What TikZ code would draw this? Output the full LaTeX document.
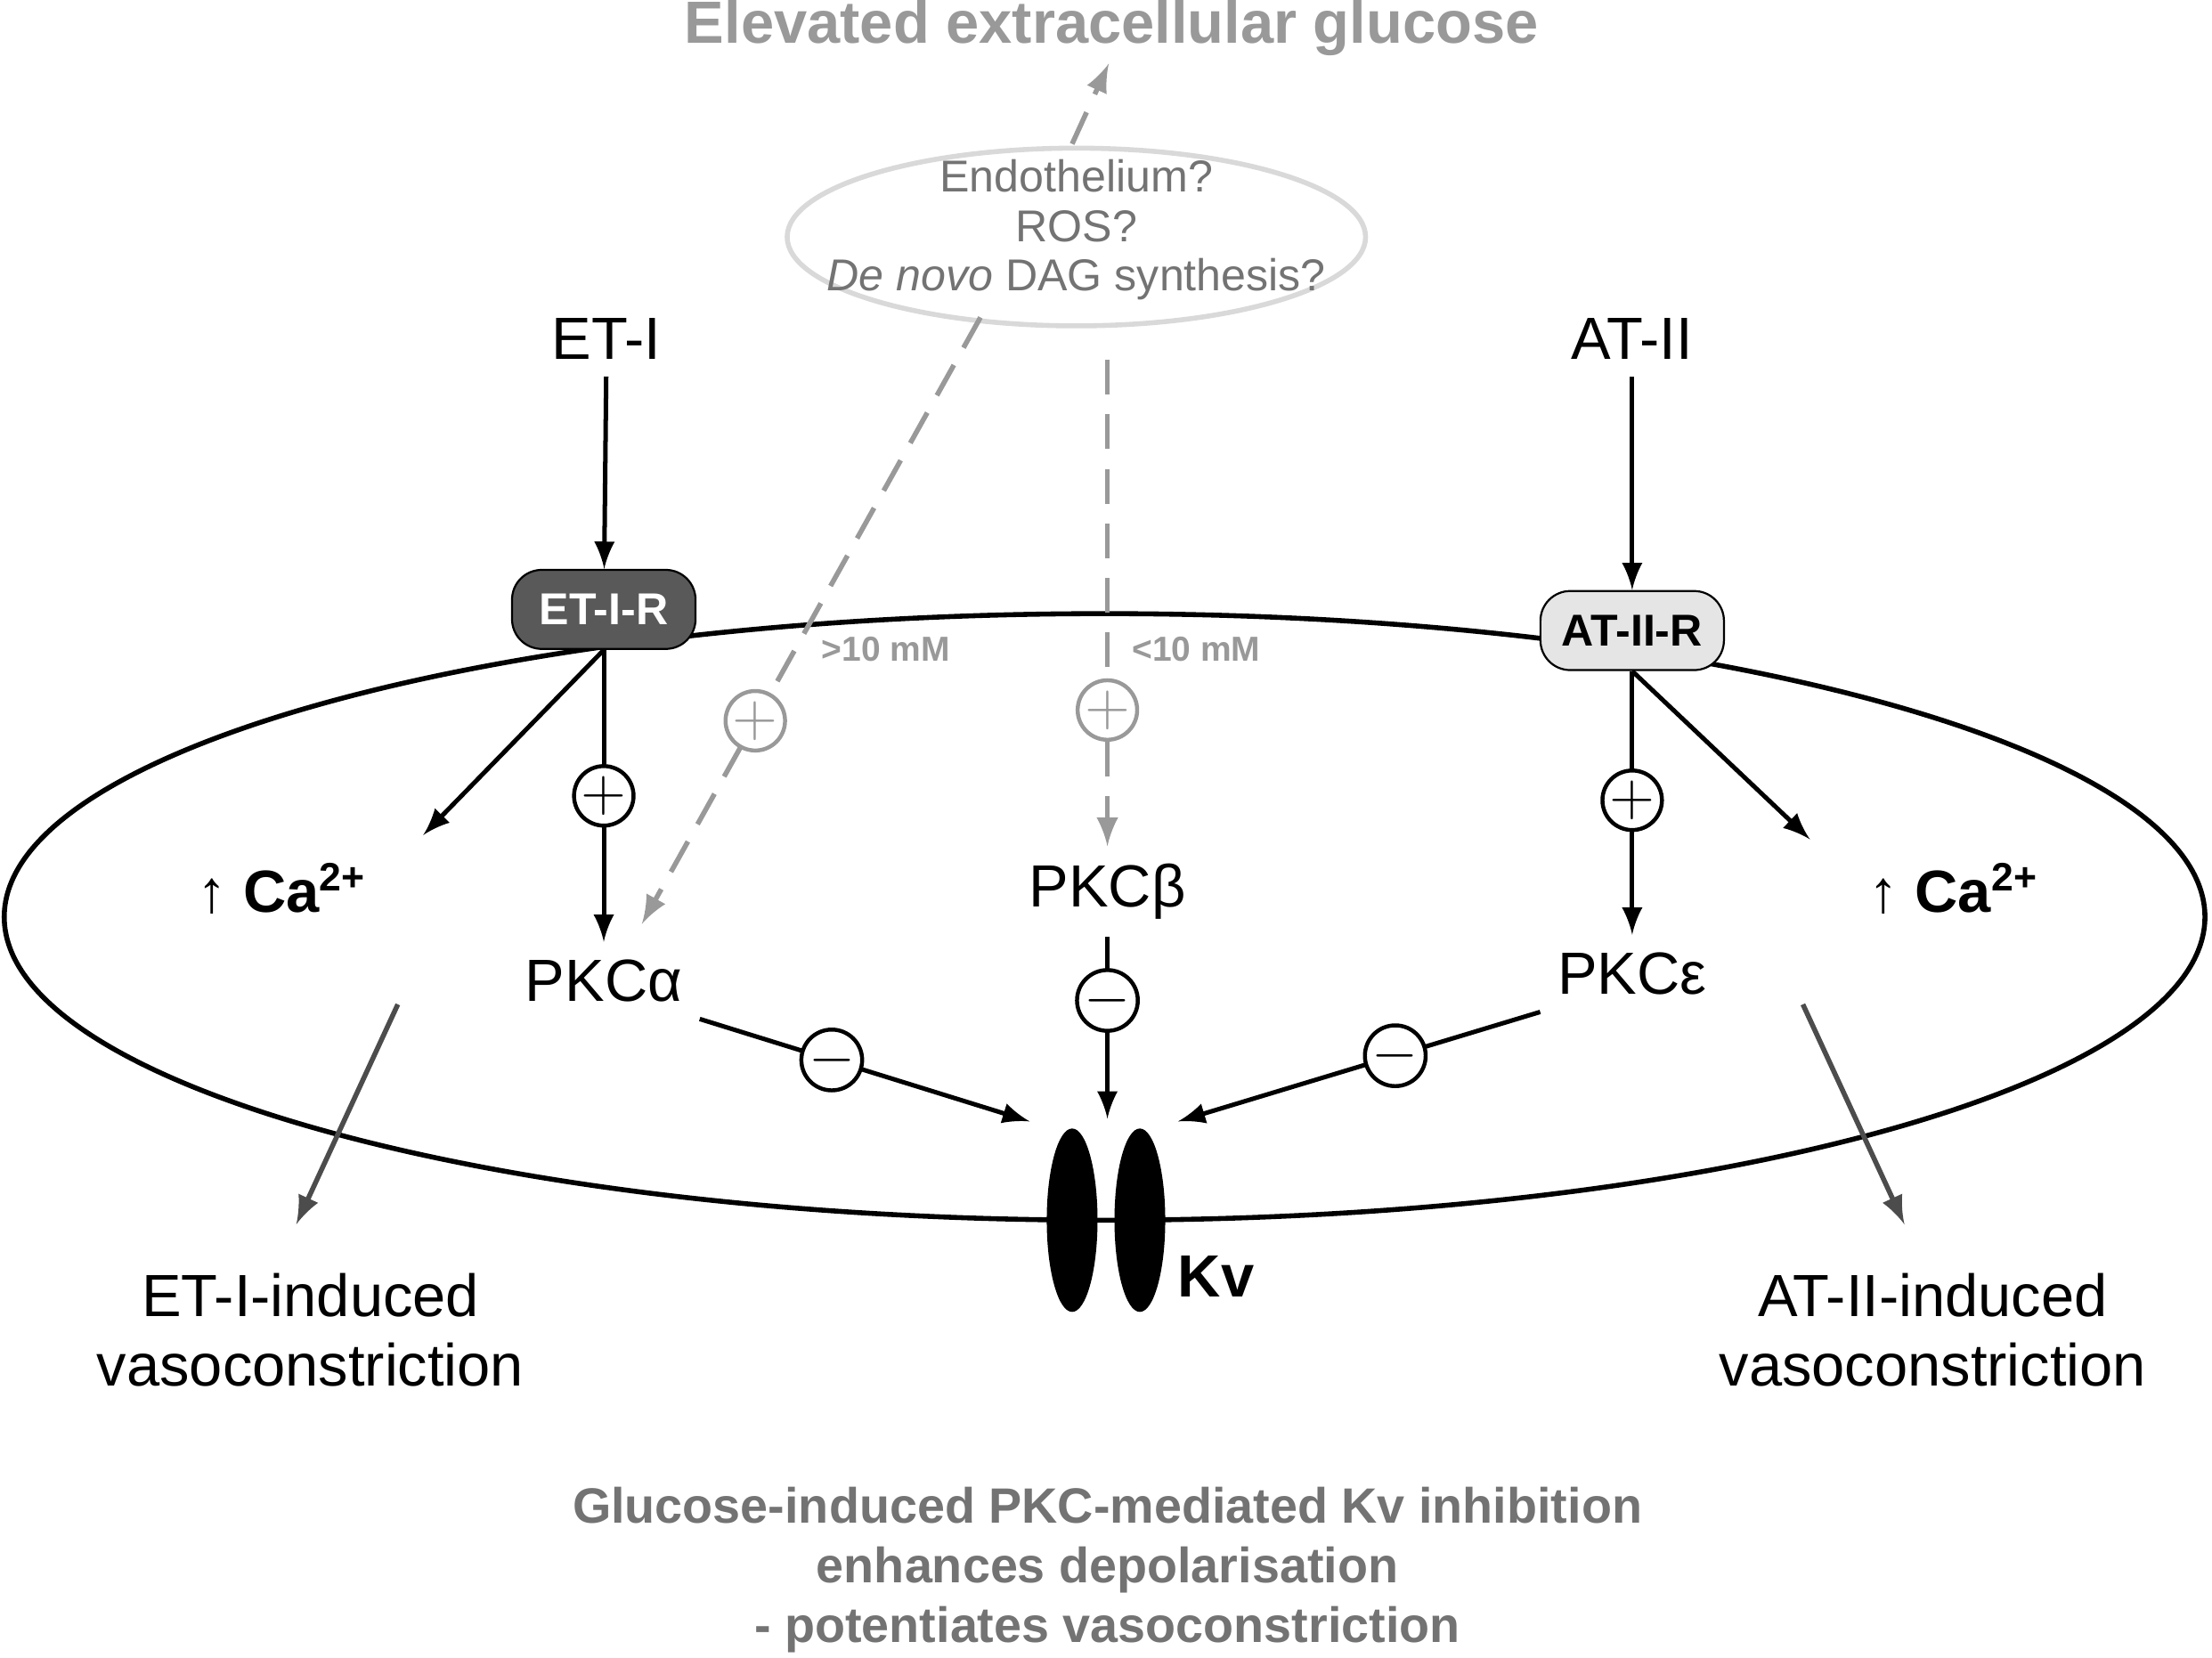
\documentclass[tikz,border=0pt]{standalone}
\usepackage{fontspec}
\setmainfont{Liberation Sans}
\usetikzlibrary{shapes.geometric}
\definecolor{glu}{gray}{0.6}
\definecolor{txtgray}{gray}{0.45}
\tikzset{
  sign/.style={circle, draw, solid, fill=white, line width=0.8pt, minimum size=0.34cm, inner sep=0pt, font=\bfseries\large},
  arr/.style={-latex, line width=0.9pt},
  gluarr/.style={-latex, dashed, dash pattern=on 7pt off 4pt, line width=1pt, glu},
  lbl/.style={font=\fontsize{12}{14}\selectfont, align=center}
}
\begin{document}
\begin{tikzpicture}[x=0.01cm, y=-0.01cm]
\useasboundingbox (0,0) rectangle (1568,1175);
% Cell
    \draw[line width=1pt] (783,650) ellipse (780 and 215);
% Glucose
    \node[font=\bfseries\fontsize{12}{14}\selectfont, glu] (glucose) at (788,20) {Elevated extracellular glucose};
    \draw[draw=black!15, line width=1pt] (763,168) ellipse (205 and 63);
    \node[align=center, text=txtgray, font=\fontsize{9}{10}\selectfont, inner sep=0pt] (mech) at (763,163)
          {Endothelium?\\ROS?\\\textit{De novo} DAG synthesis?};
    \coordinate (mtop) at (760,102);
    \coordinate (gbot) at (786,45);
    \draw[gluarr] (mtop) -- (gbot);
% Ligands and receptors
    \node[lbl] (et) at (430,240) {ET-I};
    \node[lbl] (at) at (1157,240) {AT-II};
    \node[draw, rounded corners=6pt, fill=black!65, text=white, font=\bfseries\small, minimum width=1.3cm, minimum height=0.56cm] (etr) at (428,432) {ET-I-R};
    \node[draw, rounded corners=6pt, fill=black!10, font=\bfseries\small, minimum width=1.3cm, minimum height=0.56cm] (atr) at (1157,447) {AT-II-R};
    \draw[arr] (et) -- (etr);
    \draw[arr] (at) -- (atr);
% Calcium
    \node[lbl] (ca1) at (200,630) {↑ \textbf{Ca}\textsuperscript{\textbf{2+}}};
    \node[lbl] (ca2) at (1385,630) {↑ \textbf{Ca}\textsuperscript{\textbf{2+}}};
    \coordinate (ca1t) at (300,592);
    \coordinate (ca2t) at (1283,595);
    \draw[arr] (etr.south) -- (ca1t);
    \draw[arr] (atr.south) -- (ca2t);
% PKC isoforms
    \node[lbl] (pkca) at (428,695) {PKCα};
    \node[lbl] (pkcb) at (785,632) {PKCβ};
    \node[lbl] (pkce) at (1157,690) {PKCε};
    \draw[arr] (etr) -- (pkca) node[sign, pos=0.5] {$+$};
    \draw[arr] (atr) -- (pkce) node[sign, pos=0.49] {$+$};
% Glucose routes
    \coordinate (ga) at (695,225);
    \coordinate (pa) at (455,655);
    \coordinate (gb) at (785,255);
    \draw[gluarr] (ga) -- (pa) node[sign, draw=glu, text=glu, pos=0.665] {$+$};
    \draw[gluarr] (gb) -- (pkcb.north) node[sign, draw=glu, text=glu, pos=0.72] {$+$};
    \node[glu, font=\bfseries\scriptsize] (hi) at (628,460) {>10 mM};
    \node[glu, font=\bfseries\scriptsize] (lo) at (848,460) {<10 mM};
% Kv channel
    \fill (760,865) ellipse (18 and 65);
    \fill (808,865) ellipse (18 and 65);
    \node[font=\bfseries\fontsize{12}{14}\selectfont] (kv) at (862,905) {Kv};
    \coordinate (kva) at (730,795);
    \coordinate (kvb) at (785,793);
    \coordinate (kve) at (835,795);
    \draw[arr] (pkca.south east) -- (kva) node[sign, pos=0.4] {$-$};
    \draw[arr] (pkcb) -- (kvb) node[sign, pos=0.35] {$-$};
    \draw[arr] (pkce.south west) -- (kve) node[sign, pos=0.4] {$-$};
% Outcomes
    \coordinate (c1a) at (282,712);
    \coordinate (c1b) at (210,868);
    \coordinate (c2a) at (1278,712);
    \coordinate (c2b) at (1350,868);
    \draw[-latex, line width=1pt, black!70] (c1a) -- (c1b);
    \draw[-latex, line width=1pt, black!70] (c2a) -- (c2b);
    \node[lbl] (out1) at (220,943) {ET-I-induced\\vasoconstriction};
    \node[lbl] (out2) at (1370,943) {AT-II-induced\\vasoconstriction};
    \node[align=center, font=\bfseries\fontsize{10}{12}\selectfont, txtgray] (summary) at (785,1113)
        {Glucose-induced PKC-mediated Kv inhibition\\enhances depolarisation\\- potentiates vasoconstriction};
\end{tikzpicture}
\end{document}
